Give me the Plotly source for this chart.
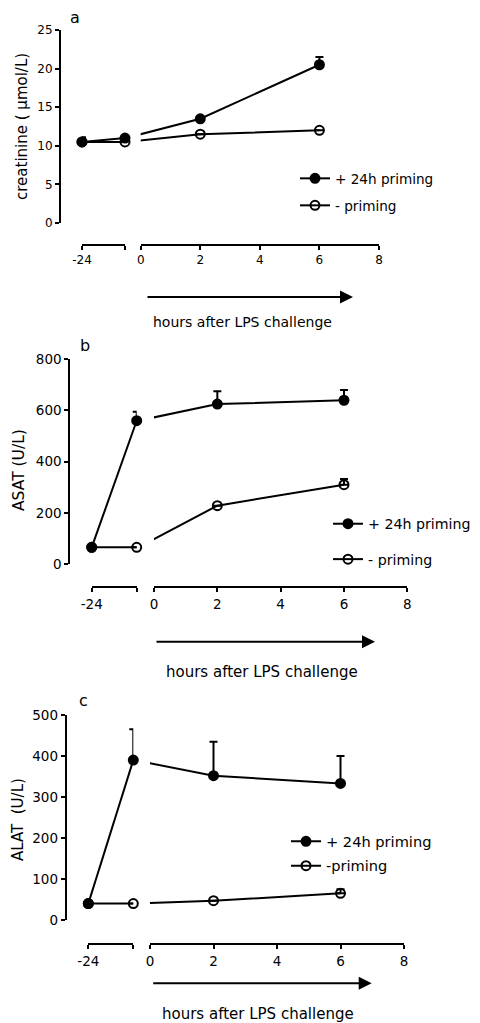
import plotly.graph_objects as go

# ---------------- data ----------------
hours = [-24, -0.5, 2, 6]          # -0.5 = sample just before LPS (end of first axis segment)
pre_ticks = [-24, -0.5]
pre_ticktext = ["-24", ""]
post_ticks = [0, 2, 4, 6, 8]
post_ticktext = ["0", "2", "4", "6", "8"]

creat_primed = [10.5, 11.0, 13.5, 20.5]
creat_primed_err = [0.6, 0, 0, 1.0]
creat_naive = [10.5, 10.5, 11.5, 12.0]
creat_naive_err = [0, 0, 0, 0]

asat_primed = [65, 560, 625, 640]
asat_primed_err = [0, 35, 50, 40]
asat_naive = [65, 65, 228, 310]
asat_naive_err = [0, 0, 0, 22]

alat_primed = [40, 390, 352, 333]
alat_primed_err = [0, 75, 83, 67]
alat_naive = [40, 40, 47, 65]
alat_naive_err = [0, 0, 0, 10]

panel_letters = ["a", "b", "c"]
y_titles = ["creatinine ( \u00b5mol/L)", "ASAT (U/L)", "ALAT  (U/L)"]
y_tickvals = [[0, 5, 10, 15, 20, 25], [0, 200, 400, 600, 800], [0, 100, 200, 300, 400, 500]]
y_max = [25, 800, 500]
primed_names = ["+ 24h priming", "+ 24h priming", "+ 24h priming"]
naive_names = ["- priming", "- priming", "-priming"]
x_title = "hours after LPS challenge"

series = [
    (creat_primed, creat_primed_err, creat_naive, creat_naive_err),
    (asat_primed, asat_primed_err, asat_naive, asat_naive_err),
    (alat_primed, alat_primed_err, alat_naive, alat_naive_err),
]

# ---------------- layout geometry (window pixels) ----------------
OFF = 8                      # default page (body) margin of the html page
W, H = 480 - OFF, 1023 - OFF
geo = [
    dict(yx=60, ytop=30, ybot=223, s1=(82, 125), s2=(140.7, 379), xy=245,
         arrow=(146, 353, 297), xlab=(242, 322), letter=(75, 18), ytit=(22, 127),
         leg=(300, 180, 27), fs_tick=12, fs_title=15, fs_leg=13.6, fs_xlab=14),
    dict(yx=69.3, ytop=359.3, ybot=564, s1=(91.7, 136.7), s2=(154, 407.3), xy=587.3,
         arrow=(155, 375, 641.7), xlab=(262, 672), letter=(85, 345), ytit=(19, 470),
         leg=(333, 525, 35.4), fs_tick=13.5, fs_title=15.5, fs_leg=14.2, fs_xlab=15),
    dict(yx=65.7, ytop=715, ybot=920, s1=(88.3, 133.3), s2=(150, 404), xy=944.3,
         arrow=(151.7, 371.7, 983.3), xlab=(258, 1014), letter=(83, 700), ytit=(18, 820),
         leg=(291, 842.3, 24.4), fs_tick=13.5, fs_title=15, fs_leg=14.6, fs_xlab=15),
]

FONT = "DejaVu Sans"
INK = "#000000"


def fx(px):
    return (px - OFF) / W


def fy(py):
    return 1 - (py - OFF) / H


fig = go.Figure()
layout = dict(
    template="none",
    width=W, height=H, margin=dict(l=0, r=0, t=0, b=0, pad=0, autoexpand=False),
    paper_bgcolor="white", plot_bgcolor="rgba(0,0,0,0)",
    font=dict(family=FONT, color=INK), annotations=[], showlegend=True,
)

for i, g in enumerate(geo):
    xa1 = "x" if i == 0 else f"x{2 * i + 1}"
    xa2 = f"x{2 * i + 2}"
    ya = "y" if i == 0 else f"y{i + 1}"
    lk = "legend" if i == 0 else f"legend{i + 1}"
    primed, primed_err, naive, naive_err = series[i]

    axis_common = dict(showgrid=False, zeroline=False, showline=True, linewidth=2,
                       linecolor=INK, ticks="outside", ticklen=4, tickwidth=2,
                       tickcolor=INK, automargin=False,
                       tickfont=dict(family=FONT, size=g["fs_tick"], color=INK))

    layout["xaxis" if i == 0 else f"xaxis{2 * i + 1}"] = dict(
        axis_common, domain=[fx(g["s1"][0]), fx(g["s1"][1])], range=[hours[0], hours[1]],
        anchor="free", position=fy(g["xy"]), tickmode="array",
        tickvals=pre_ticks, ticktext=pre_ticktext)
    layout[f"xaxis{2 * i + 2}"] = dict(
        axis_common, domain=[fx(g["s2"][0]), fx(g["s2"][1])], range=[post_ticks[0], post_ticks[-1]],
        anchor="free", position=fy(g["xy"]), tickmode="array",
        tickvals=post_ticks, ticktext=post_ticktext)
    layout["yaxis" if i == 0 else f"yaxis{i + 1}"] = dict(
        axis_common, domain=[fy(g["ybot"]), fy(g["ytop"])], range=[0, y_max[i]],
        anchor="free", position=fx(g["yx"]), tickmode="array", tickvals=y_tickvals[i])

    for vals, errs, name, filled, rank in [
        (naive, naive_err, naive_names[i], False, 2),
        (primed, primed_err, primed_names[i], True, 1),
    ]:
        marker = dict(symbol="circle" if filled else "circle-open", size=9, color=INK,
                      line=dict(width=2, color=INK))
        err1 = dict(type="data", symmetric=False, array=errs[:2], arrayminus=[0, 0],
                    color=INK, thickness=2, width=4)
        err2 = dict(type="data", symmetric=False, array=[0] + errs[2:],
                    arrayminus=[0, 0, 0], color=INK, thickness=2, width=4)
        fig.add_trace(go.Scatter(
            x=hours[:2], y=vals[:2], xaxis=xa1, yaxis=ya, mode="lines+markers",
            line=dict(color=INK, width=2), marker=marker, error_y=err1,
            cliponaxis=False, showlegend=False, name=name, legendgroup=f"{i}{rank}"))
        fig.add_trace(go.Scatter(
            x=hours[1:], y=vals[1:], xaxis=xa2, yaxis=ya, mode="lines+markers",
            line=dict(color=INK, width=2), marker=marker, error_y=err2,
            cliponaxis=True, showlegend=True, name=name, legend=lk,
            legendgroup=f"{i}{rank}", legendrank=rank))

    lx, ly, lstep = g["leg"]
    layout[lk] = dict(
        x=fx(lx - 5), y=fy(ly - 17), xanchor="left", yanchor="top",
        bgcolor="rgba(0,0,0,0)", borderwidth=0, traceorder="grouped",
        tracegroupgap=max(0, lstep - (g["fs_leg"] * 1.3 + 3)),
        font=dict(family=FONT, size=g["fs_leg"], color=INK), itemclick=False)

    # arrow under the post-LPS axis
    ax0, ax1, ay = g["arrow"]
    layout["annotations"].append(dict(
        xref="paper", yref="paper", axref="pixel", ayref="pixel",
        x=fx(ax1), y=fy(ay), ax=ax0 - ax1, ay=0, text="", showarrow=True,
        arrowhead=2, arrowsize=1.3, arrowwidth=2, arrowcolor=INK, standoff=0, startstandoff=0))
    # x title
    layout["annotations"].append(dict(
        xref="paper", yref="paper", x=fx(g["xlab"][0]), y=fy(g["xlab"][1]), text=x_title,
        showarrow=False, xanchor="center", yanchor="middle",
        font=dict(family=FONT, size=g["fs_xlab"], color=INK)))
    # y title
    layout["annotations"].append(dict(
        xref="paper", yref="paper", x=fx(g["ytit"][0]), y=fy(g["ytit"][1]), text=y_titles[i],
        showarrow=False, textangle=-90, xanchor="center", yanchor="middle",
        font=dict(family=FONT, size=g["fs_title"], color=INK)))
    # panel letter
    layout["annotations"].append(dict(
        xref="paper", yref="paper", x=fx(g["letter"][0]), y=fy(g["letter"][1]), text=panel_letters[i],
        showarrow=False, xanchor="center", yanchor="middle",
        font=dict(family=FONT, size=16, color=INK)))

fig.update_layout(**layout)
fig.write_html("out.html")
